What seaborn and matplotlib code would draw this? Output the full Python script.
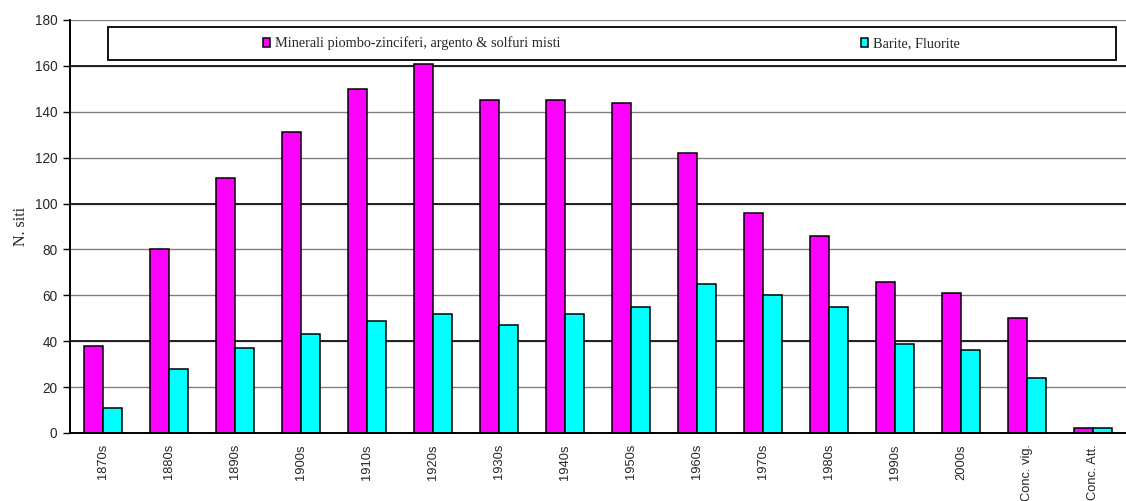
import numpy as np
import pandas as pd
import matplotlib
matplotlib.use("Agg")
import matplotlib.pyplot as plt
from matplotlib.patches import Rectangle
import seaborn as sns

# Number of sites per decade, by mineral group
periodi = ["1870s", "1880s", "1890s", "1900s", "1910s", "1920s", "1930s", "1940s",
           "1950s", "1960s", "1970s", "1980s", "1990s", "2000s", "Conc. vig.", "Conc. Att."]
piombo_zinco = [38, 80, 111, 131, 150, 161, 145, 145, 144, 122, 96, 86, 66, 61, 50, 2]
barite_fluorite = [11, 28, 37, 43, 49, 52, 47, 52, 55, 65, 60, 55, 39, 36, 24, 2]
serie = ["Minerali piombo-zinciferi, argento & solfuri misti", "Barite, Fluorite"]
y_ticks = [0, 20, 40, 60, 80, 100, 120, 140, 160, 180]

df = pd.DataFrame({
    "periodo": periodi * 2,
    "siti": piombo_zinco + barite_fluorite,
    "serie": [serie[0]] * len(periodi) + [serie[1]] * len(periodi),
})

sns.set_style("white")
plt.rcParams["font.family"] = ["Liberation Sans", "DejaVu Sans"]
serif = ["Liberation Serif", "DejaVu Serif"]

W, H = 1126, 501
fig = plt.figure(figsize=(W / 100, H / 100), dpi=100)
ax = fig.add_axes([70 / W, 68 / H, 1056 / W, 413 / H])

sns.barplot(data=df, x="periodo", y="siti", hue="serie", order=periodi,
            hue_order=serie, palette=["#ff00ff", "#00ffff"], saturation=1,
            width=0.58, gap=0, edgecolor="black", linewidth=1.1, ax=ax)

ax.set_xlim(-0.5, len(periodi) - 0.5)
ax.set_ylim(0, 180)
ax.set_yticks(y_ticks)
ax.set_yticklabels([str(v) for v in y_ticks], fontsize=9.8)

# tick marks between categories, labels at category centres
ax.set_xticks(np.arange(-0.5, len(periodi), 1.0))
ax.set_xticklabels([])
ax.set_xticks(np.arange(len(periodi)), minor=True)
ax.set_xticklabels(periodi, minor=True, rotation=90, fontsize=9.3, va="top")
ax.tick_params(axis="x", which="major", direction="out", length=5, width=1, color="black")
ax.tick_params(axis="x", which="minor", length=0, pad=8)
ax.tick_params(axis="y", direction="out", length=5, width=1, color="black", pad=4, left=True)
ax.set_xlabel("")
ax.set_ylabel("N. siti", family=serif, fontsize=11.5, labelpad=4)

ax.yaxis.grid(True, color="#808080", linewidth=1)
for v in (40, 100, 160):
    ax.axhline(v, color="#202020", linewidth=1.4, zorder=0.6)
ax.set_axisbelow(True)
for s in ("top", "right"):
    ax.spines[s].set_visible(False)
for s in ("left", "bottom"):
    ax.spines[s].set_color("black")
    ax.spines[s].set_linewidth(1.4)

# legend frame spanning the top of the plot area
ax.add_patch(Rectangle(((108 - 70) / 1056, (433 - 60) / 413), (1116 - 108) / 1056, 33 / 413,
                       transform=ax.transAxes, facecolor="white", edgecolor="black",
                       linewidth=1.3, zorder=3, clip_on=False))
sns.move_legend(ax, loc="center", bbox_to_anchor=((611.5 - 70) / 1056, (433 - 43.5) / 413),
                ncol=2, frameon=False, title=None, columnspacing=21,
                handlelength=0.5, handleheight=0.65, handletextpad=0.35,
                prop={"family": serif, "size": 10.3})
ax.get_legend().set_zorder(4)

fig.savefig("out.png", dpi=100)
